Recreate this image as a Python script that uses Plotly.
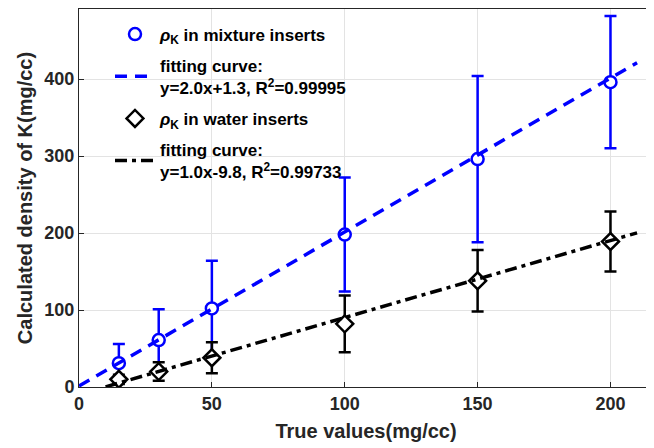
import plotly.graph_objs as go

# True concentrations (mg/cc)
true_vals = [15, 30, 50, 100, 150, 200]

# Calculated K density in mixture inserts, with error bars
mix_vals = [31, 61, 102, 198, 296, 396]
mix_err = [25, 40, 62, 74, 108, 86]

# Calculated K density in water inserts, with error bars
water_vals = [10, 20, 38, 82, 138, 189]
water_err = [6, 12, 20, 37, 40, 39]

# fitted lines (end points)
fit_mix_x = [0, 210]
fit_mix_y = [1.3, 421.3]
fit_water_x = [10, 210]
fit_water_y = [0.2, 200.2]

font_family = "Liberation Sans, Arial, sans-serif"

fig = go.Figure()

fig.add_trace(go.Scatter(
    x=true_vals, y=mix_vals, mode='markers', legendgroup='a',
    name='<i>ρ</i><sub>K</sub> in mixture inserts',
    marker=dict(symbol='circle', size=12, color='white', line=dict(color='#0000ff', width=2.5)),
    error_y=dict(type='data', array=mix_err, color='#0000ff', thickness=2.5, width=6),
))
fig.add_trace(go.Scatter(
    x=fit_mix_x, y=fit_mix_y, mode='lines', legendgroup='b',
    name='fitting curve:<br>y=2.0x+1.3, R<sup>2</sup>=0.99995',
    line=dict(color='#0000ff', width=3.5, dash='12px,8px'),
))
fig.add_trace(go.Scatter(
    x=true_vals, y=water_vals, mode='markers', legendgroup='c',
    name='<i>ρ</i><sub>K</sub> in water inserts',
    marker=dict(symbol='diamond', size=13, color='white', line=dict(color='black', width=2.5)),
    error_y=dict(type='data', array=water_err, color='black', thickness=2.5, width=6),
))
fig.add_trace(go.Scatter(
    x=fit_water_x, y=fit_water_y, mode='lines', legendgroup='d',
    name='fitting curve:<br>y=1.0x-9.8, R<sup>2</sup>=0.99733',
    line=dict(color='black', width=3.5, dash='12px,5px,4px,5px'),
))

axis_style = dict(
    showline=True, mirror=True, linecolor='#262626', linewidth=1,
    ticks='inside', ticklen=5, tickcolor='#262626',
    showgrid=True, gridcolor='#e3e3e3', gridwidth=1, zeroline=False,
    automargin=False,
    tickfont=dict(family=font_family, size=18, color='#262626', weight='bold'),
)

# page body has an 8px margin; keep the figure inside the window
fig.update_layout(
    width=646, height=440,
    margin=dict(l=71, r=1, t=1, b=61),
    paper_bgcolor='white', plot_bgcolor='white',
    font=dict(family=font_family, color='#262626'),
    xaxis=dict(range=[0, 216], tickvals=[0, 50, 100, 150, 200],
               title=dict(text='True values(mg/cc)', standoff=11,
                          font=dict(family=font_family, size=20, color='#262626', weight='bold')),
               **axis_style),
    yaxis=dict(range=[0, 491], tickvals=[0, 100, 200, 300, 400],
               title=dict(text='Calculated density of K(mg/cc)', standoff=6,
                          font=dict(family=font_family, size=20, color='#262626', weight='bold')),
               **axis_style),
    legend=dict(x=0.054, y=0.98, xanchor='left', yanchor='top',
                bgcolor='rgba(0,0,0,0)', traceorder='grouped', tracegroupgap=6,
                font=dict(family=font_family, size=17, color='black', weight='bold'),
                itemwidth=40),
    showlegend=True,
)

fig.write_html("out.html")
